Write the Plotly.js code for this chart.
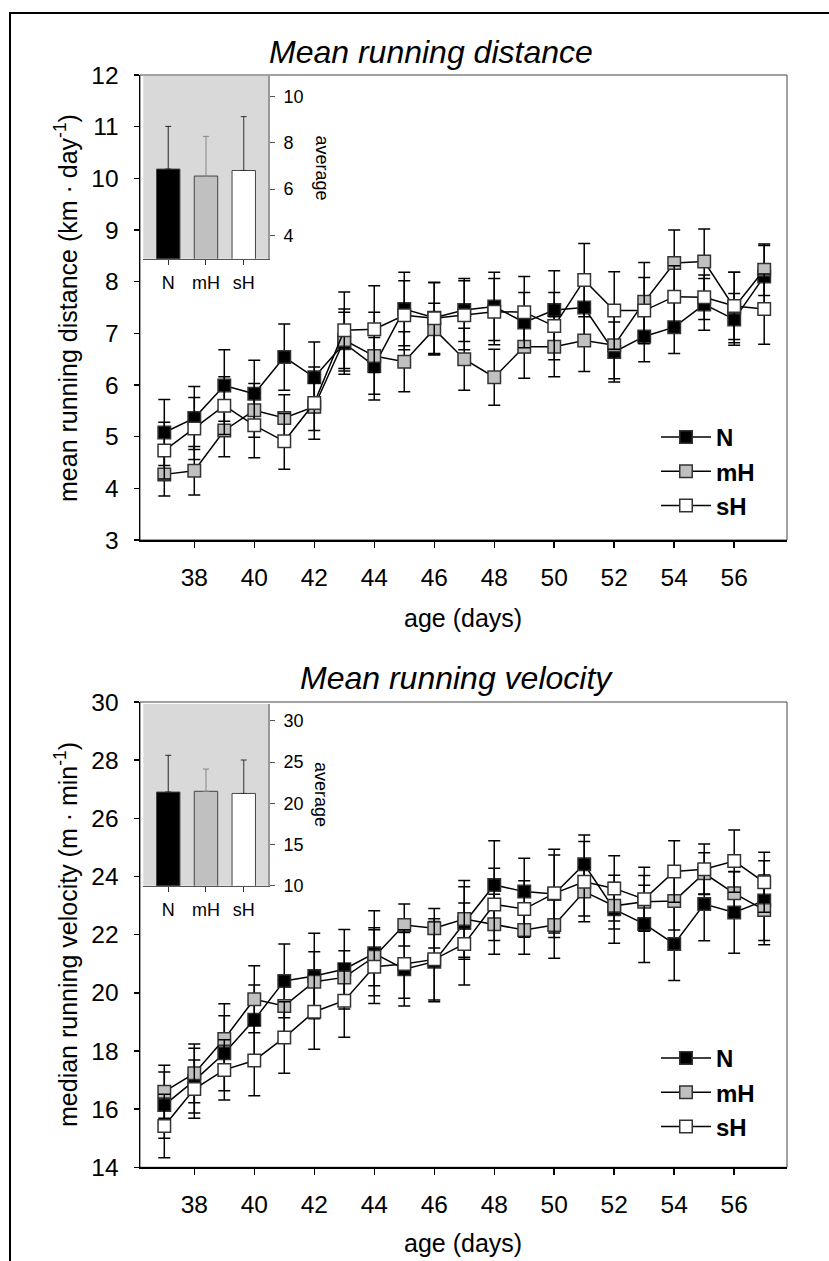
<!DOCTYPE html>
<html>
<head>
<meta charset="utf-8">
<script src="https://cdn.plot.ly/plotly-3.0.1.min.js"></script>
<style>html,body{margin:0;padding:0;background:#fff;}#chart{width:829px;height:1261px;}</style>
</head>
<body>
<div id="chart"></div>
<script>
// ---------- DATA ----------
const days = [37,38,39,40,41,42,43,44,45,46,47,48,49,50,51,52,53,54,55,56,57];
const groups = ['N','mH','sH'];

// Mean running distance (km/day)
const distN    = [5.08,5.36,5.99,5.83,6.54,6.15,6.81,6.37,7.47,7.30,7.45,7.52,7.21,7.45,7.50,6.64,6.94,7.12,7.56,7.27,8.10];
const distNErr = [0.64,0.61,0.69,0.65,0.64,0.68,0.60,0.55,0.71,0.69,0.61,0.66,0.58,0.76,0.62,0.58,0.49,0.51,0.50,0.50,0.60];
const distMH    = [4.27,4.34,5.12,5.51,5.36,5.58,6.87,6.56,6.45,7.08,6.50,6.15,6.74,6.74,6.86,6.77,7.61,8.36,8.39,7.50,8.23];
const distMHErr = [0.42,0.47,0.51,0.52,0.45,0.46,0.60,0.85,0.58,0.50,0.60,0.54,0.61,0.58,0.60,0.65,0.76,0.64,0.63,0.68,0.50];
const distSH    = [4.73,5.16,5.60,5.22,4.91,5.65,7.06,7.08,7.35,7.29,7.35,7.42,7.41,7.14,8.03,7.44,7.44,7.71,7.70,7.53,7.47];
const distSHErr = [0.55,0.60,0.56,0.63,0.54,0.70,0.74,0.84,0.67,0.69,0.67,0.64,0.69,0.65,0.71,0.75,0.64,0.60,0.43,0.65,0.68];
const distAvg    = [6.86,6.56,6.80];
const distAvgErr = [1.84,1.71,2.32];

// Median running velocity (m/min)
const velN    = [16.14,16.98,17.92,19.07,20.41,20.58,20.81,21.36,20.81,21.07,22.40,23.71,23.48,23.40,24.42,22.87,22.37,21.68,23.05,22.76,23.17];
const velNErr = [1.14,1.11,1.29,1.20,1.27,1.47,1.37,1.46,1.26,1.38,1.25,1.52,1.15,1.34,1.01,1.17,1.33,1.26,1.26,1.40,1.37];
const velMH    = [16.60,17.23,18.41,19.78,19.55,20.38,20.53,21.24,22.33,22.22,22.54,22.36,22.16,22.33,23.48,22.99,23.13,23.16,24.11,23.42,22.85];
const velMHErr = [0.91,1.01,1.21,1.15,0.90,1.03,0.92,1.00,0.72,0.68,1.32,1.03,0.83,1.14,0.84,0.80,0.90,1.00,0.71,0.75,1.20];
const velSH    = [15.42,16.69,17.35,17.67,18.46,19.35,19.73,20.90,20.99,21.15,21.68,23.04,22.88,23.42,23.82,23.59,23.22,24.17,24.25,24.53,23.80];
const velSHErr = [1.09,1.00,1.04,1.21,1.23,1.29,1.26,1.27,1.18,1.40,1.41,1.24,0.97,1.52,1.38,1.12,1.10,1.06,0.87,1.07,1.03];
const velAvg    = [21.37,21.46,21.20];
const velAvgErr = [4.46,2.70,4.06];

// ---------- STYLE ----------
const W = 829, H = 1261;
const px = v => v / W;
const py = v => 1 - v / H;
const FONT = 'Arial, "Liberation Sans", Helvetica, sans-serif';
const fills = ['#000000', '#c0c0c0', '#ffffff'];
const errCols = ['#222222', '#888888', '#333333'];

function lineTrace(name, y, err, fill, xa, ya, legend, show) {
  return {
    type: 'scatter', mode: 'lines+markers', name: name,
    x: days, y: y, xaxis: xa, yaxis: ya, legend: legend, showlegend: show,
    line: {color: '#000', width: 1.5},
    marker: {symbol: 'square', size: 12.5, color: fill, line: {color: '#333', width: 1.5}},
    error_y: {type: 'data', array: err, visible: true, color: '#000', thickness: 1.5, width: 6},
    cliponaxis: false
  };
}
function barTraces(avg, err, xa, ya) {
  return groups.map((g, i) => ({
    type: 'bar', x: [g], y: [avg[i]], xaxis: xa, yaxis: ya, width: 0.62, showlegend: false,
    marker: {color: fills[i], line: {color: '#444', width: 1}},
    error_y: {type: 'data', array: [err[i]], arrayminus: [0], symmetric: false, color: errCols[i], thickness: 1, width: 3}
  }));
}

const data = [
  lineTrace('N', distN, distNErr, fills[0], 'x', 'y', 'legend', true),
  lineTrace('mH', distMH, distMHErr, fills[1], 'x', 'y', 'legend', true),
  lineTrace('sH', distSH, distSHErr, fills[2], 'x', 'y', 'legend', true),
  ...barTraces(distAvg, distAvgErr, 'x2', 'y2'),
  lineTrace('N', velN, velNErr, fills[0], 'x3', 'y3', 'legend2', true),
  lineTrace('mH', velMH, velMHErr, fills[1], 'x3', 'y3', 'legend2', true),
  lineTrace('sH', velSH, velSHErr, fills[2], 'x3', 'y3', 'legend2', true),
  ...barTraces(velAvg, velAvgErr, 'x4', 'y4')
];

const mainX = (anchor) => ({
  domain: [px(140), px(787)], range: [36.19, 57.76], anchor: anchor,
  showline: true, linecolor: '#000', linewidth: 1.5, ticks: 'outside', ticklen: 6, tickwidth: 1.5, tickcolor: '#000',
  tick0: 38, dtick: 2, showgrid: false, zeroline: false, tickfont: {size: 24.5, color: '#000'},
  ticklabelstandoff: 9, automargin: false, fixedrange: true
});
const mainY = (anchor, dom, rng, dt) => ({
  domain: dom, range: rng, anchor: anchor, dtick: dt,
  showline: true, linecolor: '#000', linewidth: 1.5, ticks: 'outside', ticklen: 5, tickwidth: 1.5, tickcolor: '#000',
  showgrid: false, zeroline: false, tickfont: {size: 24.5, color: '#000'}, ticklabelstandoff: 10, automargin: false
});
const insetX = (anchor, dom) => ({
  domain: dom, range: [-0.66, 2.65], anchor: anchor, type: 'category',
  showline: true, linecolor: '#555', linewidth: 1, ticks: 'outside', ticklen: 5, tickwidth: 1, tickcolor: '#333',
  showgrid: false, zeroline: false, tickfont: {size: 18, color: '#000'}, ticklabelstandoff: 3, automargin: false
});
const insetY = (anchor, dom, rng, t0, dt) => ({
  domain: dom, range: rng, anchor: anchor, side: 'right', tick0: t0, dtick: dt,
  showline: true, linecolor: '#999', linewidth: 1.5, ticks: 'outside', ticklen: 5, tickwidth: 1, tickcolor: '#555',
  showgrid: false, zeroline: false, tickfont: {size: 18, color: '#000'}, ticklabelstandoff: 5, automargin: false
});

const legendStyle = (yTop) => ({
  x: px(656), y: py(yTop), xanchor: 'left', yanchor: 'top', xref: 'paper', yref: 'paper',
  bgcolor: 'rgba(0,0,0,0)', borderwidth: 0, itemwidth: 50, tracegroupgap: 0,
  font: {family: FONT, size: 24, color: '#000', weight: 'bold'}
});

const layout = {
  width: W, height: H,
  margin: {l: 0, r: 0, t: 0, b: 0},
  paper_bgcolor: '#fff', plot_bgcolor: 'rgba(0,0,0,0)',
  font: {family: FONT, color: '#000'},
  barmode: 'overlay',
  xaxis: mainX('y'),
  yaxis: mainY('x', [py(540), py(75)], [3, 12], 1),
  xaxis2: insetX('y2', [px(143.3), px(268.3)]),
  yaxis2: insetY('x2', [py(258.7), py(76)], [3, 10.87], 0, 2),
  xaxis3: mainX('y3'),
  yaxis3: mainY('x3', [py(1167.3), py(702)], [14, 30], 2),
  xaxis4: insetX('y4', [px(143.3), px(268.3)]),
  yaxis4: insetY('x4', [py(885.7), py(704)], [10, 32.06], 10, 5),
  legend: legendStyle(415),
  legend2: legendStyle(1036),
  shapes: [
    {type: 'rect', xref: 'paper', yref: 'paper', x0: px(10), x1: 1.05, y0: -0.05, y1: py(13), line: {color: '#000', width: 2}, layer: 'below'},
    {type: 'rect', xref: 'x domain', yref: 'y domain', x0: 0, x1: 1, y0: 0, y1: 1, line: {color: '#444', width: 1}, layer: 'below'},
    {type: 'rect', xref: 'x3 domain', yref: 'y3 domain', x0: 0, x1: 1, y0: 0, y1: 1, line: {color: '#444', width: 1}, layer: 'below'},
    {type: 'rect', xref: 'x2 domain', yref: 'y2 domain', x0: 0, x1: 1, y0: 0, y1: 1, fillcolor: '#d9d9d9', line: {width: 0}, layer: 'below'},
    {type: 'rect', xref: 'x4 domain', yref: 'y4 domain', x0: 0, x1: 1, y0: 0, y1: 1, fillcolor: '#d9d9d9', line: {width: 0}, layer: 'below'}
  ],
  annotations: [
    {text: 'Mean running distance', xref: 'paper', yref: 'paper', x: px(431), y: py(52), xanchor: 'center', yanchor: 'middle', showarrow: false, font: {size: 32, style: 'italic', color: '#000'}},
    {text: 'Mean running velocity', xref: 'paper', yref: 'paper', x: px(457), y: py(678), xanchor: 'center', yanchor: 'middle', showarrow: false, font: {size: 32, style: 'italic', color: '#000'}},
    {text: 'mean running distance (km · day<sup>-1</sup>)', xref: 'paper', yref: 'paper', x: px(66), y: py(308), xanchor: 'center', yanchor: 'middle', textangle: -90, showarrow: false, font: {size: 25, color: '#000'}},
    {text: 'median running velocity (m · min<sup>-1</sup>)', xref: 'paper', yref: 'paper', x: px(66), y: py(935), xanchor: 'center', yanchor: 'middle', textangle: -90, showarrow: false, font: {size: 25, color: '#000'}},
    {text: 'age (days)', xref: 'paper', yref: 'paper', x: px(463), y: py(618), xanchor: 'center', yanchor: 'middle', showarrow: false, font: {size: 25, color: '#000'}},
    {text: 'age (days)', xref: 'paper', yref: 'paper', x: px(463), y: py(1243), xanchor: 'center', yanchor: 'middle', showarrow: false, font: {size: 25, color: '#000'}},
    {text: 'average', xref: 'paper', yref: 'paper', x: px(321), y: py(167.5), xanchor: 'center', yanchor: 'middle', textangle: 90, showarrow: false, font: {size: 18, color: '#000'}},
    {text: 'average', xref: 'paper', yref: 'paper', x: px(321), y: py(794), xanchor: 'center', yanchor: 'middle', textangle: 90, showarrow: false, font: {size: 18, color: '#000'}}
  ]
};

Plotly.newPlot('chart', data, layout, {staticPlot: true, displayModeBar: false});
</script>
</body>
</html>
